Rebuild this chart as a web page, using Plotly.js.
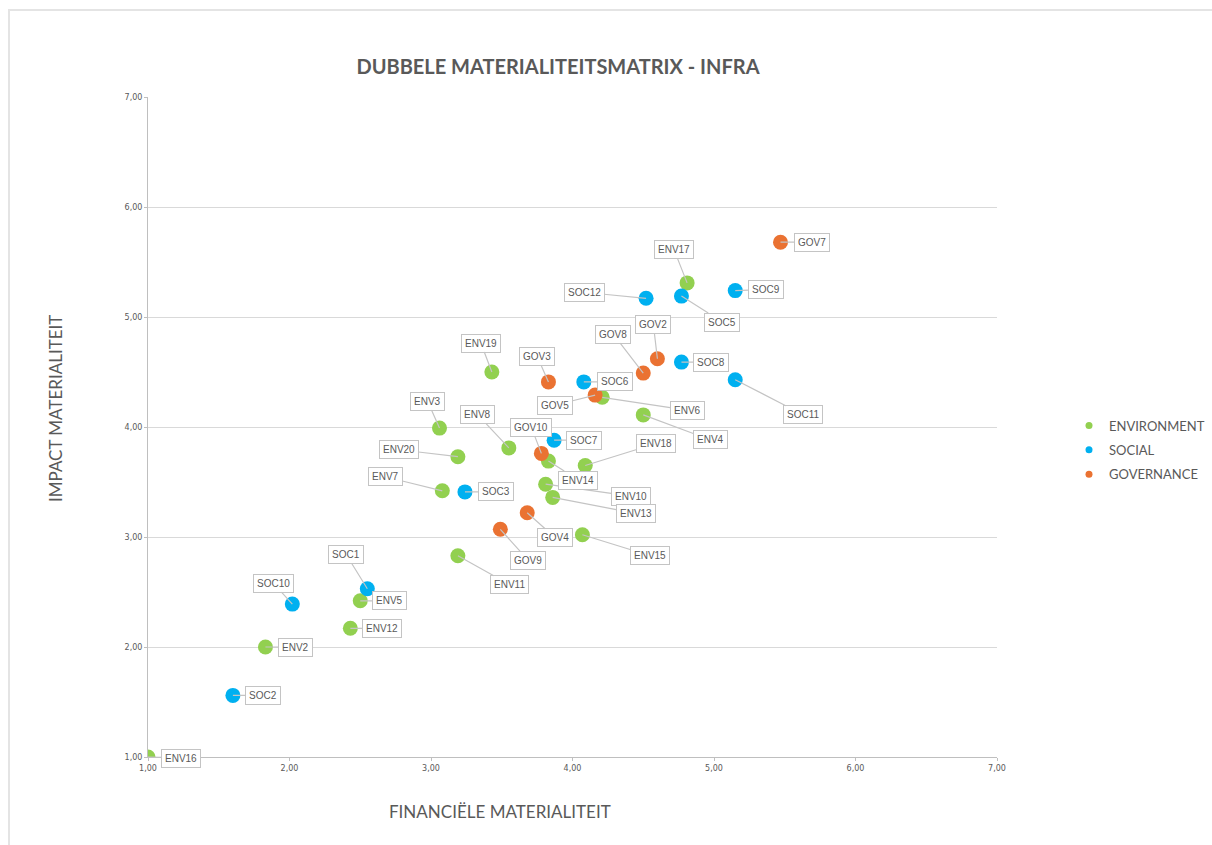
<!DOCTYPE html>
<html>
<head>
<meta charset="utf-8">
<script src="https://cdn.plot.ly/plotly-3.0.1.min.js"></script>
<style>
  html, body { margin: 0; padding: 0; background: #ffffff; }
  #wrap { position: relative; width: 1212px; height: 845px; overflow: hidden; }
  #frame { position: absolute; left: 8px; top: 9px; width: 1400px; height: 1000px;
           border-top: 2px solid #e4e4e4; border-left: 2px solid #e4e4e4; box-sizing: border-box; }
  #chart { position: absolute; left: 0; top: 0; width: 1212px; height: 845px; }
</style>
</head>
<body>
<div id="wrap">
  <div id="frame"></div>
  <div id="chart"></div>
</div>
<script>
// Topics per ESG pillar: financial materiality (x) and impact materiality (y)
const envNames = ['ENV2','ENV3','ENV4','ENV5','ENV6','ENV7','ENV8','ENV10','ENV11','ENV12','ENV13','ENV14','ENV15','ENV16','ENV17','ENV18','ENV19','ENV20'];
const envX     = [1.83, 3.06, 4.50, 2.50, 4.21, 3.08, 3.55, 3.81, 3.19, 2.43, 3.86, 3.83, 4.07, 1.00, 4.81, 4.09, 3.43, 3.19];
const envY     = [2.00, 3.99, 4.11, 2.42, 4.27, 3.42, 3.81, 3.48, 2.83, 2.17, 3.36, 3.69, 3.02, 1.00, 5.31, 3.65, 4.50, 3.73];

const socNames = ['SOC1','SOC2','SOC3','SOC5','SOC6','SOC7','SOC8','SOC9','SOC10','SOC11','SOC12'];
const socX     = [2.55, 1.60, 3.24, 4.77, 4.08, 3.87, 4.77, 5.15, 2.02, 5.15, 4.52];
const socY     = [2.53, 1.56, 3.41, 5.19, 4.41, 3.88, 4.59, 5.24, 2.39, 4.43, 5.17];

const govNames = ['GOV2','GOV3','GOV4','GOV5','GOV7','GOV8','GOV9','GOV10'];
const govX     = [4.60, 3.83, 3.68, 4.16, 5.47, 4.50, 3.49, 3.78];
const govY     = [4.62, 4.41, 3.22, 4.29, 5.68, 4.49, 3.07, 3.76];

const axisTicks = [1, 2, 3, 4, 5, 6, 7];

// Pixel offset of each callout box from its point
const calloutOffset = {
  ENV2:[30,0], ENV3:[-12,-27], ENV4:[67,25], ENV5:[29,0], ENV6:[85,13], ENV7:[-57,-14],
  ENV8:[-31,-33], ENV10:[85,12], ENV11:[52,29], ENV12:[32,0], ENV13:[83,16], ENV14:[30,19],
  ENV15:[68,21], ENV16:[33,1], ENV17:[-13,-33], ENV18:[71,-22], ENV19:[-11,-29], ENV20:[-59,-7],
  SOC1:[-21,-34], SOC2:[30,0], SOC3:[31,0], SOC5:[41,26], SOC6:[31,0], SOC7:[30,0],
  SOC8:[30,0], SOC9:[31,-1], SOC10:[-19,-21], SOC11:[68,35], SOC12:[-62,-6],
  GOV2:[-4,-34], GOV3:[-11,-25], GOV4:[28,25], GOV5:[-40,10], GOV7:[31,0], GOV8:[-30,-39],
  GOV9:[28,31], GOV10:[-10,-26]
};

const COLORS = { env: '#92d050', soc: '#00b0f0', gov: '#ea7232' };
const TEXT = '#595959';

function pointTrace(names, xs, ys, color) {
  return {
    type: 'scatter', mode: 'markers', x: xs, y: ys, text: names,
    marker: { size: 15, color: color, line: { width: 0 } },
    showlegend: false, hoverinfo: 'text+x+y'
  };
}
function legendTrace(label, color) {
  return {
    type: 'scatter', mode: 'markers', x: [null], y: [null], name: label,
    legendgroup: label,
    marker: { size: 7, color: color }, showlegend: true, hoverinfo: 'skip'
  };
}

const traces = [
  pointTrace(envNames, envX, envY, COLORS.env),
  pointTrace(socNames, socX, socY, COLORS.soc),
  pointTrace(govNames, govX, govY, COLORS.gov),
  legendTrace('ENVIRONMENT', COLORS.env),
  legendTrace('SOCIAL', COLORS.soc),
  legendTrace('GOVERNANCE', COLORS.gov)
];

const annotations = [];
function addCallouts(names, xs, ys) {
  names.forEach((n, i) => {
    const off = calloutOffset[n] || [30, 0];
    annotations.push({
      x: xs[i], y: ys[i], xref: 'x', yref: 'y', text: n,
      showarrow: true, arrowhead: 0, arrowwidth: 1.2, arrowcolor: '#c4c4c4',
      standoff: 0, ax: off[0], ay: off[1],
      font: { family: 'Liberation Sans, Arial, sans-serif', size: 10, color: TEXT },
      bgcolor: '#ffffff', bordercolor: '#c4c4c4', borderwidth: 1, borderpad: 3
    });
  });
}
addCallouts(envNames, envX, envY);
addCallouts(socNames, socX, socY);
addCallouts(govNames, govX, govY);

// Axis titles
const axisTitleFont = { family: 'Lato, sans-serif', size: 17, color: TEXT };
annotations.push({
  text: 'FINANCIËLE MATERIALITEIT', xref: 'paper', yref: 'paper',
  x: (500 - 148) / 849, y: (757 - 811) / 660, xanchor: 'center', yanchor: 'middle',
  showarrow: false, font: axisTitleFont
});
annotations.push({
  text: 'IMPACT MATERIALITEIT', xref: 'paper', yref: 'paper', textangle: -90,
  x: (55 - 148) / 849, y: (757 - 409) / 660, xanchor: 'center', yanchor: 'middle',
  showarrow: false, font: axisTitleFont
});

const tickText = axisTicks.map(v => v.toFixed(2).replace('.', ','));

const layout = {
  width: 1212, height: 845,
  paper_bgcolor: 'rgba(0,0,0,0)', plot_bgcolor: 'rgba(0,0,0,0)',
  margin: { l: 148, r: 215, t: 97, b: 88, autoexpand: false },
  title: {
    text: '<b>DUBBELE MATERIALITEITSMATRIX - INFRA</b>',
    font: { family: 'Lato, sans-serif', size: 20, color: TEXT },
    x: 558 / 1212, xref: 'container', xanchor: 'center',
    y: 1 - 67 / 845, yref: 'container', yanchor: 'middle'
  },
  xaxis: {
    range: [1, 7], tickvals: axisTicks, ticktext: tickText,
    showgrid: false, zeroline: false,
    showline: true, linecolor: '#bfbfbf', linewidth: 1,
    ticks: 'outside', ticklen: 3, tickcolor: '#bfbfbf',
    tickfont: { family: 'DejaVu Sans, sans-serif', size: 8, color: TEXT },
    automargin: false, fixedrange: true
  },
  yaxis: {
    range: [1, 7], tickvals: axisTicks, ticktext: tickText,
    showgrid: true, gridcolor: '#d9d9d9', gridwidth: 1, zeroline: false,
    showline: true, linecolor: '#bfbfbf', linewidth: 1,
    ticks: 'outside', ticklen: 3, tickcolor: '#bfbfbf',
    tickfont: { family: 'DejaVu Sans, sans-serif', size: 8, color: TEXT },
    automargin: false, fixedrange: true
  },
  legend: {
    x: (1069 - 148) / 849, xanchor: 'left',
    y: (757 - 450) / 660, yanchor: 'middle',
    tracegroupgap: 4.5,
    font: { family: 'Lato, sans-serif', size: 13, color: TEXT },
    bgcolor: 'rgba(0,0,0,0)', borderwidth: 0
  },
  annotations: annotations,
  showlegend: true,
  hovermode: 'closest'
};

Plotly.newPlot('chart', traces, layout, { displayModeBar: false });
</script>
</body>
</html>
